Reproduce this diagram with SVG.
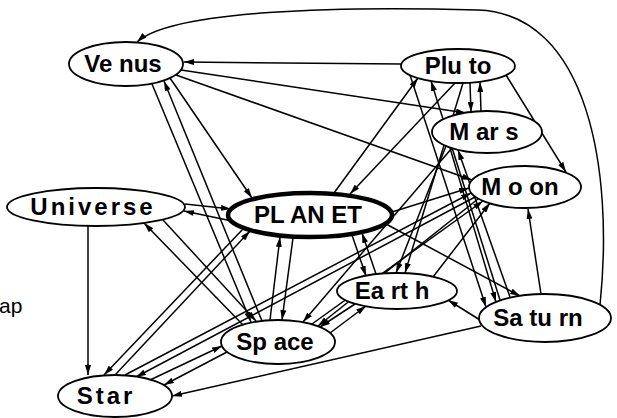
<svg xmlns="http://www.w3.org/2000/svg" width="617" height="418" viewBox="0 0 617 418">
  <style>
    .edge { stroke: #000; stroke-width: 1.5; fill: none; marker-end: url(#ah); }
    .node ellipse { fill: #fff; stroke: #000; stroke-width: 1.8; }
    .node text { font-family: "Liberation Sans", Arial, sans-serif; font-weight: bold; font-size: 24px; fill: #000; text-anchor: middle; }
    .core ellipse { stroke-width: 4.5; }
    .side { font-family: "Liberation Sans", Arial, sans-serif; font-size: 21px; fill: #000; }
  </style>
  <defs>
    <marker id="ah" viewBox="0 0 10 6" refX="10" refY="3" markerWidth="10" markerHeight="6" markerUnits="userSpaceOnUse" orient="auto">
      <path d="M0,0 L10,3 L0,6 z" fill="#000"/>
    </marker>
  </defs>
  <rect width="617" height="418" fill="#fff"/>

  <text class="side" x="-1" y="313">ap</text>

  <g id="connectors">
    <path class="edge" d="M 600 305 C 614 170, 588 14, 478 10 C 340 6, 172 10, 137 42"/>
    <line class="edge" x1="401" y1="64" x2="184" y2="62"/>
    <line class="edge" x1="181" y1="70" x2="466" y2="113"/>
    <line class="edge" x1="176" y1="75" x2="472" y2="180"/>
    <line class="edge" x1="170" y1="78" x2="252" y2="198"/>
    <line class="edge" x1="152" y1="84" x2="251" y2="322"/>
    <line class="edge" x1="262" y1="321" x2="164" y2="81"/>
    <line class="edge" x1="185" y1="204" x2="231" y2="209"/>
    <line class="edge" x1="232" y1="221" x2="184" y2="211"/>
    <line class="edge" x1="88" y1="226" x2="88" y2="375"/>
    <line class="edge" x1="163" y1="220" x2="256" y2="321"/>
    <line class="edge" x1="243" y1="325" x2="144" y2="223"/>
    <line class="edge" x1="243" y1="229" x2="104" y2="375"/>
    <line class="edge" x1="115" y1="375" x2="250" y2="231"/>
    <line class="edge" x1="125" y1="375" x2="471" y2="193"/>
    <line class="edge" x1="475" y1="197" x2="136" y2="377"/>
    <line class="edge" x1="150" y1="380" x2="222" y2="346"/>
    <line class="edge" x1="227" y1="352" x2="164" y2="385"/>
    <line class="edge" x1="481" y1="326" x2="172" y2="396"/>
    <line class="edge" x1="470" y1="83" x2="471" y2="112"/>
    <line class="edge" x1="481" y1="111" x2="480" y2="82"/>
    <line class="edge" x1="506" y1="75" x2="566" y2="172"/>
    <line class="edge" x1="455" y1="83" x2="350" y2="194"/>
    <line class="edge" x1="334" y1="193" x2="418" y2="78"/>
    <line class="edge" x1="410" y1="75" x2="486" y2="307"/>
    <line class="edge" x1="500" y1="300" x2="431" y2="81"/>
    <line class="edge" x1="450" y1="148" x2="496" y2="302"/>
    <line class="edge" x1="510" y1="297" x2="458" y2="150"/>
    <line class="edge" x1="446" y1="146" x2="396" y2="273"/>
    <line class="edge" x1="463" y1="83" x2="405" y2="273"/>
    <line class="edge" x1="433" y1="277" x2="490" y2="203"/>
    <line class="edge" x1="541" y1="294" x2="528" y2="209"/>
    <line class="edge" x1="480" y1="320" x2="448" y2="300"/>
    <line class="edge" x1="352" y1="235" x2="366" y2="276"/>
    <line class="edge" x1="376" y1="274" x2="362" y2="233"/>
    <line class="edge" x1="293" y1="238" x2="282" y2="320"/>
    <line class="edge" x1="270" y1="320" x2="280" y2="237"/>
    <line class="edge" x1="330" y1="333" x2="366" y2="306"/>
    <line class="edge" x1="355" y1="304" x2="320" y2="327"/>
    <line class="edge" x1="452" y1="148" x2="303" y2="322"/>
    <line class="edge" x1="478" y1="199" x2="318" y2="326"/>
    <line class="edge" x1="386" y1="224" x2="520" y2="296"/>
    <line class="edge" x1="392" y1="212" x2="469" y2="188"/>
    <line class="edge" x1="312" y1="324" x2="483" y2="201"/>
  </g>

  <g id="node-venus" class="node">
    <ellipse cx="126" cy="64" rx="57" ry="22"/>
    <text x="123" y="72">Ve nus</text>
  </g>
  <g id="node-pluto" class="node">
    <ellipse cx="458" cy="66" rx="57" ry="17"/>
    <text x="458" y="74">Plu to</text>
  </g>
  <g id="node-mars" class="node">
    <ellipse cx="487" cy="132" rx="55" ry="21"/>
    <text x="484" y="140">M ar s</text>
  </g>
  <g id="node-moon" class="node">
    <ellipse cx="525" cy="187" rx="56" ry="21"/>
    <text x="520" y="195">M o on</text>
  </g>
  <g id="node-universe" class="node">
    <ellipse cx="96" cy="207" rx="89" ry="19"/>
    <text x="93" y="215" style="letter-spacing:3px">Universe</text>
  </g>
  <g id="node-planet" class="node core">
    <ellipse cx="310" cy="215" rx="82" ry="22"/>
    <text x="308" y="223">PL AN ET</text>
  </g>
  <g id="node-earth" class="node">
    <ellipse cx="397" cy="291" rx="60" ry="18"/>
    <text x="392" y="299">Ea rt h</text>
  </g>
  <g id="node-saturn" class="node">
    <ellipse cx="545" cy="318" rx="66" ry="24"/>
    <text x="538" y="326">Sa tu rn</text>
  </g>
  <g id="node-space" class="node">
    <ellipse cx="278" cy="342" rx="57" ry="22"/>
    <text x="275" y="350">Sp ace</text>
  </g>
  <g id="node-star" class="node">
    <ellipse cx="115" cy="396" rx="57" ry="21"/>
    <text x="106" y="404" style="letter-spacing:3px">Star</text>
  </g>
</svg>
